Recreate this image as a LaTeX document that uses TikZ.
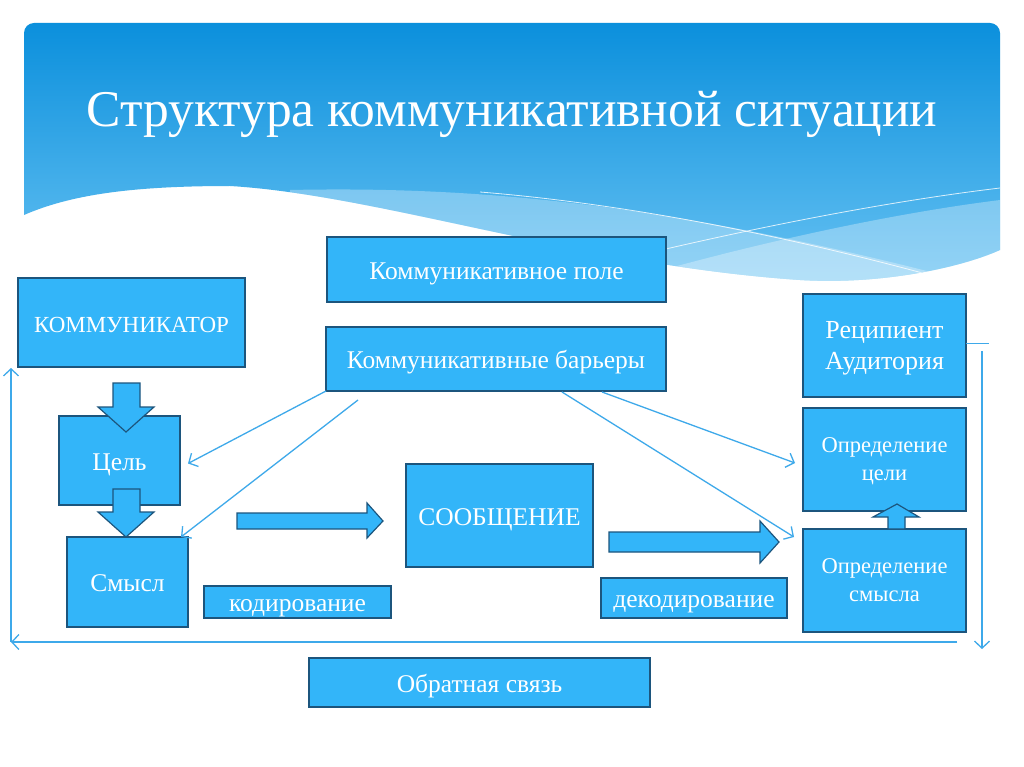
\documentclass[tikz,border=0pt]{standalone}
\usepackage{fontspec}
\setmainfont{Liberation Serif}
\usetikzlibrary{arrows.meta,calc}

\definecolor{boxblue}{RGB}{51,181,249}
\definecolor{boxedge}{RGB}{28,85,125}
\definecolor{lineblue}{RGB}{62,169,234}
\definecolor{headtop}{RGB}{10,143,220}
\definecolor{headbot}{RGB}{105,195,243}

\tikzset{
  blk/.style={draw=boxedge, fill=boxblue, line width=1.2pt, text=white,
    anchor=north west, inner sep=0pt, outer sep=0pt, align=center,
    text height=24pt, text depth=5pt,
    font=\fontsize{25.5}{30}\selectfont},
  blktwo/.style={blk, text height=, text depth=0pt},
  barrow/.style={draw=boxedge, fill=boxblue, line width=1.2pt, line join=miter},
  conn/.style={draw=lineblue, line width=1.3pt,
    -{Straight Barb[length=7pt,width=15pt,line width=1.3pt]}},
  fbline/.style={draw=lineblue, line width=1.6pt}
}

\begin{document}
\begin{tikzpicture}[x=1pt,y=-1pt]
\useasboundingbox (0,0) rectangle (1024,767);
\fill[white] (0,0) rectangle (1024,767);

% header with the waves
\begin{scope}
\clip (24,215) [rounded corners=10pt] -- (24,23) -- (1000,23) [sharp corners] -- (1000,250)
  .. controls (960,268) and (880,285) .. (800,280)
  .. controls (580,265) and (380,195) .. (230,186)
  .. controls (130,186) and (70,195) .. (24,215) -- cycle;
\shade[top color=headtop, bottom color=headbot] (20,20) rectangle (1004,290);
\fill[white, opacity=.3] (290,190) .. controls (520,185) and (720,215) .. (1000,290) -- (1000,300) -- (290,300) -- cycle;
\fill[white, opacity=.3] (560,300) .. controls (720,250) and (880,215) .. (1000,200) -- (1000,300) -- cycle;
\draw[white, line width=.8pt, opacity=.8] (480,192) .. controls (640,205) and (800,240) .. (930,275);
\draw[white, line width=.8pt, opacity=.8] (640,255) .. controls (780,222) and (900,200) .. (1000,188);
\end{scope}
\node[text=white, font=\fontsize{51.5}{60}\selectfont, anchor=base] (title) at (512,127) {Структура коммуникативной ситуации};

% boxes
\node[blk, minimum width=227pt, minimum height=89pt, font=\fontsize{23}{28}\selectfont] (kom) at (18,278) {КОММУНИКАТОР};
\node[blk, minimum width=339pt, minimum height=65pt] (pole) at (327,237) {Коммуникативное поле};
\node[blk, minimum width=340pt, minimum height=64pt] (bar) at (326,327) {Коммуникативные барьеры};
\node[blk, minimum width=121pt, minimum height=89pt] (goal) at (59,416) {Цель};
\node[blk, minimum width=121pt, minimum height=90pt] (sense) at (67,537) {Смысл};
\node[blk, minimum width=187pt, minimum height=103pt] (msg) at (406,464) {СООБЩЕНИЕ};
\node[blk, minimum width=187pt, minimum height=32pt] (code) at (204,586) {кодирование};
\node[blk, minimum width=186pt, minimum height=40pt] (decode) at (601,578) {декодирование};
\node[blktwo, minimum width=163pt, minimum height=103pt, text depth=-2pt, font=\fontsize{26}{31}\selectfont] (recip) at (803,294) {Реципиент\\Аудитория};
\node[blktwo, minimum width=163pt, minimum height=103pt, font=\fontsize{22.5}{28}\selectfont] (rgoal) at (803,408) {Определение\\цели};
\node[blktwo, minimum width=163pt, minimum height=103pt, font=\fontsize{22.5}{28}\selectfont] (rsense) at (803,529) {Определение\\смысла};
\node[blk, minimum width=341pt, minimum height=49pt] (fb) at (309,658) {Обратная связь};

% block arrows
\draw[barrow] (113,383) -- (140,383) -- (140,407) -- (154,407) -- (126,432) -- (98,407) -- (113,407) -- cycle;
\draw[barrow] (113,489) -- (140,489) -- (140,512) -- (154,512) -- (126,537) -- (98,512) -- (113,512) -- cycle;
\draw[barrow] (237,513) -- (367,513) -- (367,503) -- (383,521) -- (367,538) -- (367,529) -- (237,529) -- cycle;
\draw[barrow] (609,532) -- (760,532) -- (760,521) -- (779,542) -- (760,563) -- (760,552) -- (609,552) -- cycle;
\draw[barrow] (888,529) -- (888,517) -- (873,517) -- (897,504) -- (919,517) -- (905,517) -- (905,529) -- cycle;

% barriers
\draw[conn] (bar.south west) -- ($(goal.east)+(8,3)$);
\draw[conn] ($(bar.south west)+(32,9)$) -- ($(sense.north east)+(-7,0)$);
\draw[conn] ($(bar.south west)+(236,1)$) -- ($(rsense.north west)+(-9,8)$);
\draw[conn] ($(bar.south west)+(276,1)$) -- ($(rgoal.west)+(-8,3.5)$);

% feedback loop
\coordinate (rtop) at (982,351);
\coordinate (rbot) at (982,649);
\coordinate (bR) at (957,642);
\coordinate (bL) at (11,642);
\coordinate (lT) at (11,368);
\draw[fbline] ($(recip.east)+(0,-2)$) -- ++(23,0);
\draw[fbline, -{Straight Barb[length=7pt,width=15pt,line width=1.3pt]}] (rtop) -- (rbot);
\draw[fbline, -{Straight Barb[length=7pt,width=15pt,line width=1.3pt]}] (bR) -- (bL);
\draw[fbline, -{Straight Barb[length=7pt,width=15pt,line width=1.3pt]}] (bL) -- (lT);
\end{tikzpicture}
\end{document}
